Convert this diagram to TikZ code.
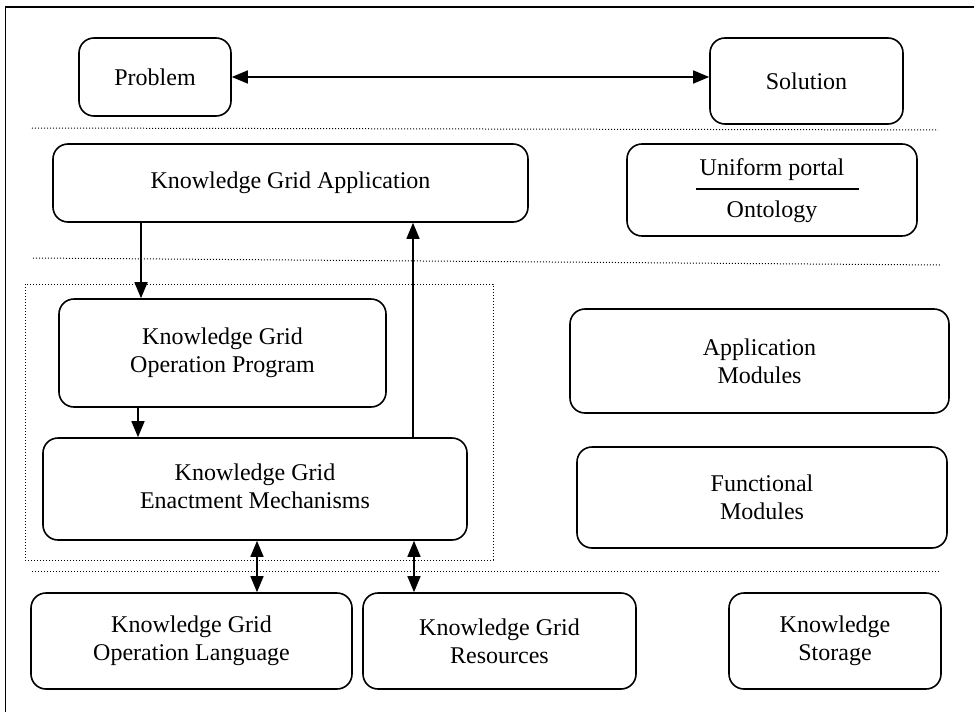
\documentclass[tikz,border=0pt]{standalone}
\usepackage{fontspec}
\setmainfont{Liberation Serif}
\usetikzlibrary{arrows.meta,calc}
\begin{document}
\begin{tikzpicture}[x=1pt,y=-1pt,
  box/.style={draw,line width=1.6pt,rounded corners=15pt,align=center,inner sep=0pt,font=\fontsize{24}{28}\selectfont},
  lbl/.style={inner sep=0pt,font=\fontsize{24}{28}\selectfont},
  arr/.style={line width=1.5pt,-{Triangle[length=16pt,width=13pt]}},
  darr/.style={line width=1.5pt,{Triangle[length=16pt,width=13pt]}-{Triangle[length=16pt,width=13pt]}},
  sep/.style={line width=1pt,dash pattern=on 1pt off 2pt},
  frameline/.style={line width=1.6pt}]
\useasboundingbox (0,0) rectangle (974,712);
% outer frame (left and top)
\draw[frameline] (5.5,712) -- (5.5,7) -- (974,7);
% separators
\draw[sep] (32,128) -- (938,130);
\draw[sep] (33,258) -- (940,265);
\draw[sep] (32,571) -- (940,571);
\draw[sep] (25,284) rectangle (493,560);
% boxes
\node[box,minimum width=152pt,minimum height=78pt] (prob) at (155,77) {Problem};
\node[box,minimum width=193pt,minimum height=86pt] (sol) at (806.5,81) {Solution};
\node[box,minimum width=475pt,minimum height=78pt] (kga) at (290.5,183) {Knowledge Grid Application};
\node[box,minimum width=290pt,minimum height=92pt] (up) at (772,190) {};
\node[lbl] (upt) at (772,170) {Uniform portal};
\node[lbl] (upo) at (772,212) {Ontology};
\coordinate (upl) at (696,189);
\coordinate (upr) at (859,189);
\draw[line width=1.5pt] (upl) -- (upr);
\node[box,minimum width=327pt,minimum height=108pt] (kgop) at (222.5,353) {Knowledge Grid\\Operation Program};
\node[box,minimum width=424pt,minimum height=102pt] (kgem) at (255,489) {};
\node[lbl,align=center] (kgemt) at (255,486) {Knowledge Grid\\Enactment Mechanisms};
\node[box,minimum width=379pt,minimum height=104pt] (am) at (759.5,361) {Application\\Modules};
\node[box,minimum width=370pt,minimum height=101pt] (fm) at (762,497.5) {Functional\\Modules};
\node[box,minimum width=321pt,minimum height=96pt] (kgol) at (191.5,641) {Knowledge Grid\\Operation Language};
\node[box,minimum width=273pt,minimum height=96pt] (kgr) at (499.5,641) {Knowledge Grid\\Resources};
\node[box,minimum width=212pt,minimum height=96pt] (ks) at (835,641) {Knowledge\\Storage};
% connector x positions
\coordinate (xa) at (141,0);
\coordinate (xb) at (138,0);
\coordinate (xc) at (413,0);
\coordinate (xd) at (257,0);
\coordinate (xe) at (414,0);
% connectors
\draw[darr] (prob.east) -- (prob.east -| sol.west);
\draw[arr] (kga.south -| xa) -- (kgop.north -| xa);
\draw[arr] (kgop.south -| xb) -- (kgem.north -| xb);
\draw[arr] (kgem.north -| xc) -- (kga.south -| xc);
\draw[darr] (kgem.south -| xd) -- (kgol.north -| xd);
\draw[darr] (kgem.south -| xe) -- (kgr.north -| xe);
\end{tikzpicture}
\end{document}
